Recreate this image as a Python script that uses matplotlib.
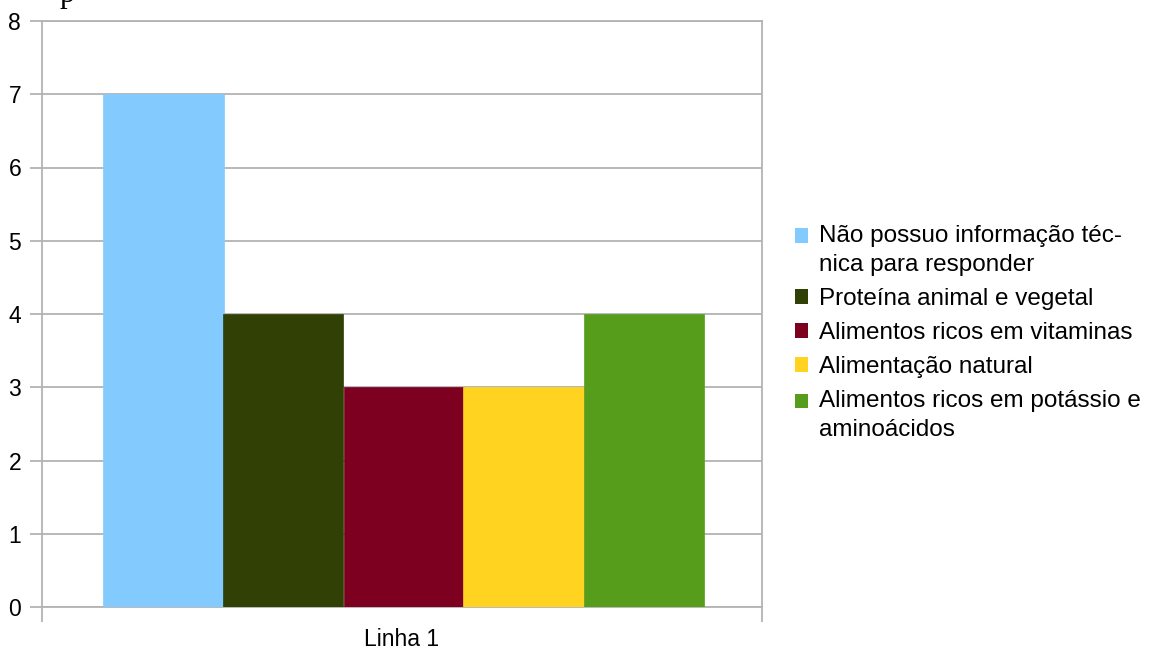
import matplotlib.pyplot as plt
from matplotlib.patches import Patch
from matplotlib.legend_handler import HandlerPatch

plt.rcParams['font.family'] = ['Liberation Sans', 'DejaVu Sans']

categorias = ['Não possuo informação téc-\nnica para responder',
              'Proteína animal e vegetal',
              'Alimentos ricos em vitaminas',
              'Alimentação natural',
              'Alimentos ricos em potássio e\naminoácidos']
valores = [7, 4, 3, 3, 4]
cores = ['#83caff', '#314004', '#7e0021', '#ffd320', '#579d1c']
grupo = ['Linha 1']


class AlinhaTopo(HandlerPatch):
    # quadrado na altura da primeira linha do rótulo
    def __init__(self, desloc):
        super().__init__()
        self.desloc = desloc

    def create_artists(self, legend, orig_handle, xdescent, ydescent, width, height, fontsize, trans):
        return super().create_artists(legend, orig_handle, xdescent, ydescent - self.desloc,
                                      width, height, fontsize, trans)


W, H = 1175, 653
fig = plt.figure(figsize=(W / 100, H / 100), dpi=100)
ax = fig.add_axes([42 / W, 1 - 607 / H, 720 / W, 586 / H])

n = len(valores)
largura = (600 / 720) / n
inicio = 0.5 - largura * n / 2 + 1.5 / 720
for i, (v, c) in enumerate(zip(valores, cores)):
    ax.bar(inicio + largura * (i + 0.5), v, width=largura, color=c,
           edgecolor=c, linewidth=0.5, zorder=3)

ax.set_xlim(0, 1)
ax.set_ylim(0, 8)
ax.set_yticks(range(0, 9))
ax.yaxis.grid(True, color='#b3b3b3', linewidth=1.3, zorder=0)
ax.set_xticks([0, 1], minor=False)
ax.set_xticklabels(['', ''])
ax.set_xticks([0.5], minor=True)
ax.set_xticklabels(grupo, minor=True)
ax.tick_params(axis='x', which='minor', length=0, pad=15, labelsize=16.5)
ax.tick_params(axis='x', which='major', length=11, width=1.3, color='#b3b3b3')
ax.tick_params(axis='y', length=9, width=1.3, color='#b3b3b3', labelsize=16.5, pad=6)
for s in ax.spines.values():
    s.set_color('#b3b3b3')
    s.set_linewidth(1.3)

handles = [Patch(facecolor=c, edgecolor='none') for c in cores]
mapa = {h: AlinhaTopo(10.4) for h, lab in zip(handles, categorias) if '\n' in lab}
leg = fig.legend(handles, categorias, loc='center left', bbox_to_anchor=(795 / W, 1 - 333 / H),
                 frameon=False, fontsize=17.5, handlelength=0.55, handleheight=0.55,
                 handletextpad=0.42, labelspacing=0.5, borderpad=0, borderaxespad=0,
                 handler_map=mapa)
for t in leg.get_texts():
    t.set_linespacing(1.4)

fig.text(60 / W, 1 - 2 / H, 'p', family='Liberation Serif', fontsize=22, va='baseline')

fig.savefig('out.png', dpi=100)
